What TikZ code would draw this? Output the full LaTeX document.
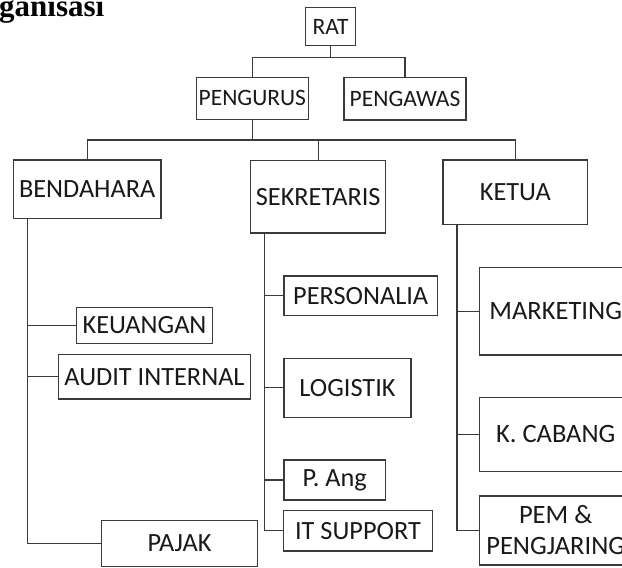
\documentclass[tikz,border=0pt]{standalone}
\usepackage{fontspec}
\setmainfont{Carlito}
\newfontfamily\headfont{Liberation Serif}
\usetikzlibrary{shapes}
\definecolor{edge}{HTML}{3A3A3A}
\tikzstyle{unit} = [rectangle, draw=edge, line width=1.3pt, inner sep=0pt, text centered, font=\fontsize{26.3}{29}\selectfont, text=black!90]
\tikzstyle{smallunit} = [unit, font=\fontsize{23.5}{26}\selectfont]
\tikzstyle{bigunit} = [unit, font=\fontsize{26.5}{31}\selectfont]
\tikzstyle{link} = [draw=edge, line width=1.3pt]

\begin{document}
\begin{tikzpicture}[x=1pt, y=-1pt]
   \useasboundingbox (0,0) rectangle (622,568);
   \clip (0,0) rectangle (622,568);
   \node (head) [anchor=base west, inner sep=0pt, font=\headfont\bfseries\fontsize{31}{34}\selectfont] at (-1,16) {ganisasi};

   % top
   \node (rat) [smallunit, minimum width=49.6pt, minimum height=38.4pt] at (330.5,26.5) {RAT};
   \node (pengurus) [smallunit, minimum width=112pt, minimum height=42pt] at (252.3,98.3) {PENGURUS};
   \node (pengawas) [smallunit, minimum width=122pt, minimum height=42.7pt] at (405,98.7) {PENGAWAS};
   \coordinate (ratbus) at ([yshift=-11pt]rat.south);
   \draw [link] (rat.south) -- (ratbus);
   \draw [link] (pengurus.north) |- (ratbus) -| (pengawas.north);

   % pengurus
   \node (bendahara) [unit, minimum width=147.7pt, minimum height=58.3pt] at (87.2,189.2) {BENDAHARA};
   \node (sekretaris) [unit, minimum width=135pt, minimum height=72.6pt] at (318.2,196.7) {SEKRETARIS};
   \node (ketua) [unit, minimum width=144.7pt, minimum height=64.7pt] at (515.3,192.3) {KETUA};
   \coordinate (mainbus) at ([yshift=-20pt]pengurus.south);
   \draw [link] (pengurus.south) -- (mainbus);
   \draw [link] (bendahara.north) |- (mainbus) -| (ketua.north);
   \draw [link] (sekretaris.north) -- (sekretaris.north |- mainbus);

   % bendahara
   \node (keuangan) [unit, minimum width=135.6pt, minimum height=35.6pt] at (144.5,325.5) {KEUANGAN};
   \node (audit) [unit, minimum width=192.4pt, minimum height=44.7pt] at (154.5,376.7) {AUDIT INTERNAL};
   \node (pajak) [unit, minimum width=155.6pt, minimum height=46.4pt] at (179.5,543.5) {PAJAK};
   \coordinate (bspine) at ([xshift=15pt]bendahara.south west);
   \draw [link] (bspine) |- (pajak.west);
   \foreach \n in {keuangan, audit}
      \draw [link] (\n.west) -- (\n.west -| bspine);

   % sekretaris
   \node (personalia) [unit, minimum width=153.3pt, minimum height=39.7pt] at (360.7,295.8) {PERSONALIA};
   \node (logistik) [unit, minimum width=127pt, minimum height=59pt] at (347.5,387.8) {LOGISTIK};
   \node (pang) [unit, minimum width=101.3pt, minimum height=40pt] at (334.7,480) {P. Ang};
   \node (itsupport) [unit, minimum width=149.4pt, minimum height=40.3pt] at (358,530.8) {IT SUPPORT};
   \coordinate (sspine) at ([xshift=14.3pt]sekretaris.south west);
   \draw [link] (sspine) |- (itsupport.west);
   \foreach \n in {personalia, logistik, pang}
      \draw [link] (\n.west) -- (\n.west -| sspine);

   % ketua
   \node (marketing) [bigunit, minimum width=152.7pt, minimum height=87.7pt] at (555.7,311.2) {MARKETING};
   \node (kcabang) [bigunit, minimum width=152.7pt, minimum height=74.4pt] at (555.7,434.5) {K. CABANG};
   \node (pem) [bigunit, minimum width=152.7pt, minimum height=69pt, align=center] at (555.7,530.5) {PEM \&\\PENGJARING};
   \coordinate (kspine) at ([xshift=14.7pt]ketua.south west);
   \draw [link] (kspine) |- (pem.west);
   \foreach \n in {marketing, kcabang}
      \draw [link] (\n.west) -- (\n.west -| kspine);
\end{tikzpicture}
\end{document}
